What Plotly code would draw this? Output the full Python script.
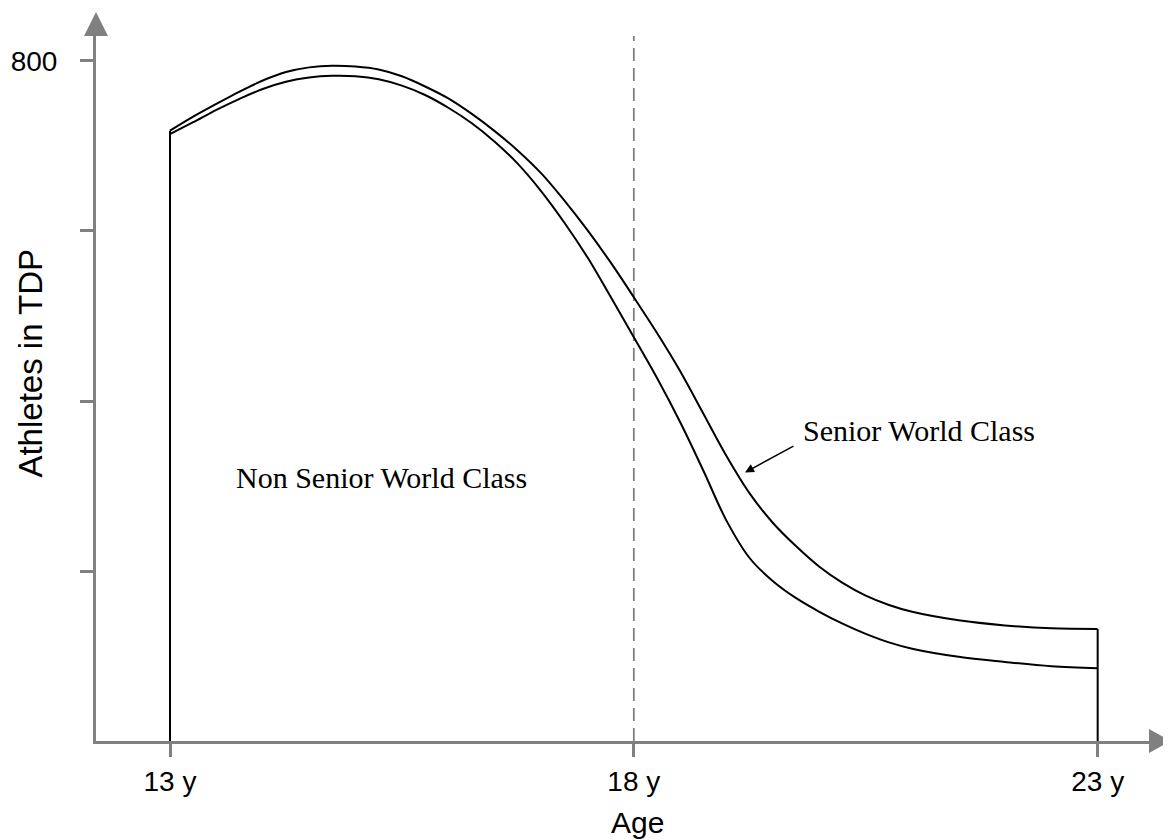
import plotly.graph_objects as go

# ---- data ----
ages = [13, 13.25, 13.5, 13.75, 14, 14.25, 14.5, 14.75, 15, 15.25, 15.5, 15.75,
        16, 16.25, 16.5, 16.75, 17, 17.25, 17.5, 17.75, 18, 18.25, 18.5, 18.75,
        19, 19.25, 19.5, 19.75, 20, 20.25, 20.5, 20.75, 21, 21.5, 22, 22.5, 23]
# upper curve: all athletes in TDP (non senior world class + senior world class)
total_athletes = [718, 734.5, 749.5, 764, 777, 787, 792.5, 794.5, 793.5, 790, 782, 770,
                  756, 738, 717.5, 694.5, 668, 636, 601, 563, 522, 480, 435, 385,
                  335, 291, 256.5, 229, 205, 186, 171, 160, 152, 142, 136, 132.6, 131.8]
# lower curve: non senior world class athletes
non_swc = [714, 728, 742.5, 755.5, 767, 775.5, 780.5, 782.5, 782, 778.5, 771, 760,
           745, 727, 705, 679, 647, 610, 569, 522.5, 475, 427, 375, 318,
           259, 215, 188, 168, 152, 138, 126, 116, 108.5, 99, 93, 88, 85.5]

x_tickvals = [13, 18, 23]
x_ticktext = ["13 y", "18 y", "23 y"]
y_tickvals = [200, 400, 600, 800]
y_ticktext = ["", "", "", "800"]
marker_age = 18

GRAY = "#808080"
SANS = "Liberation Sans, Arial, sans-serif"
SERIF = "Liberation Serif, Times New Roman, serif"

fig = go.Figure()

# lower curve
fig.add_trace(go.Scatter(x=ages, y=non_swc, mode="lines",
                         line=dict(color="black", width=2, shape="spline", smoothing=1.0),
                         hoverinfo="skip", showlegend=False))
# upper curve
fig.add_trace(go.Scatter(x=ages, y=total_athletes, mode="lines",
                         line=dict(color="black", width=2, shape="spline", smoothing=1.0),
                         hoverinfo="skip", showlegend=False))
# boundary verticals at start and end ages
fig.add_trace(go.Scatter(x=[ages[0], ages[0]], y=[0, total_athletes[0]], mode="lines",
                         line=dict(color="black", width=2), hoverinfo="skip", showlegend=False))
fig.add_trace(go.Scatter(x=[ages[-1], ages[-1]], y=[0, total_athletes[-1]], mode="lines",
                         line=dict(color="black", width=2), hoverinfo="skip", showlegend=False))

# dashed vertical line at 18
fig.add_shape(type="line", xref="x", yref="paper", x0=marker_age, x1=marker_age, y0=0, y1=1,
              line=dict(color=GRAY, width=1.8, dash="13px,7px"), layer="below")

# axis arrowheads
fig.add_shape(type="path", xref="paper", yref="paper",
              path="M -0.0114 1 L 0.0114 1 L 0 1.034 Z",
              fillcolor=GRAY, line=dict(color=GRAY, width=0))
fig.add_shape(type="path", xref="paper", yref="paper",
              path="M 1 -0.017 L 1 0.017 L 1.0209 0 Z",
              fillcolor=GRAY, line=dict(color=GRAY, width=0))

# labels
fig.add_annotation(x=15.285, y=310, xref="x", yref="y", text="Non Senior World Class",
                   showarrow=False, font=dict(family=SERIF, size=30, color="black"),
                   xanchor="center", yanchor="middle")
fig.add_annotation(x=19.80, y=365, xref="x", yref="y", text="Senior World Class",
                   showarrow=False, font=dict(family=SERIF, size=30, color="black"),
                   xanchor="left", yanchor="middle")
fig.add_annotation(x=19.198, y=316, xref="x", yref="y", text="", showarrow=True,
                   ax=50, ay=-27, axref="pixel", ayref="pixel",
                   arrowhead=2, arrowsize=1.2, arrowwidth=1.5, arrowcolor="black")

# axis titles
fig.add_annotation(x=-0.0626, y=0.5355, xref="paper", yref="paper", text="Athletes in TDP",
                   textangle=-90, showarrow=False,
                   font=dict(family=SANS, size=33, color="black"),
                   xanchor="center", yanchor="middle")
fig.add_annotation(x=0.5145, y=-0.1156, xref="paper", yref="paper", text="Age",
                   showarrow=False, font=dict(family=SANS, size=30, color="black"),
                   xanchor="center", yanchor="middle")

# the page body has an 8px margin, so the figure is 8px smaller and the margins compensate
fig.update_layout(
    width=1163, height=832, autosize=False,
    margin=dict(l=88, r=22, t=28, b=99, pad=0),
    paper_bgcolor="white", plot_bgcolor="white",
    showlegend=False,
    xaxis=dict(range=[12.2023, 23.5533], showgrid=False, zeroline=False,
               showline=True, linecolor=GRAY, linewidth=3, automargin=False,
               ticks="outside", ticklen=13, tickwidth=2.5, tickcolor=GRAY,
               tickvals=x_tickvals, ticktext=x_ticktext,
               tickfont=dict(family=SANS, size=28, color="black"),
               fixedrange=True),
    yaxis=dict(range=[0, 829.4], showgrid=False, zeroline=False,
               showline=True, linecolor=GRAY, linewidth=3, automargin=False,
               ticks="outside", ticklen=13, tickwidth=2.5, tickcolor=GRAY,
               tickvals=y_tickvals, ticktext=y_ticktext,
               tickfont=dict(family=SANS, size=28, color="black"),
               ticklabelstandoff=17,
               fixedrange=True),
)

fig.write_html("out.html")
